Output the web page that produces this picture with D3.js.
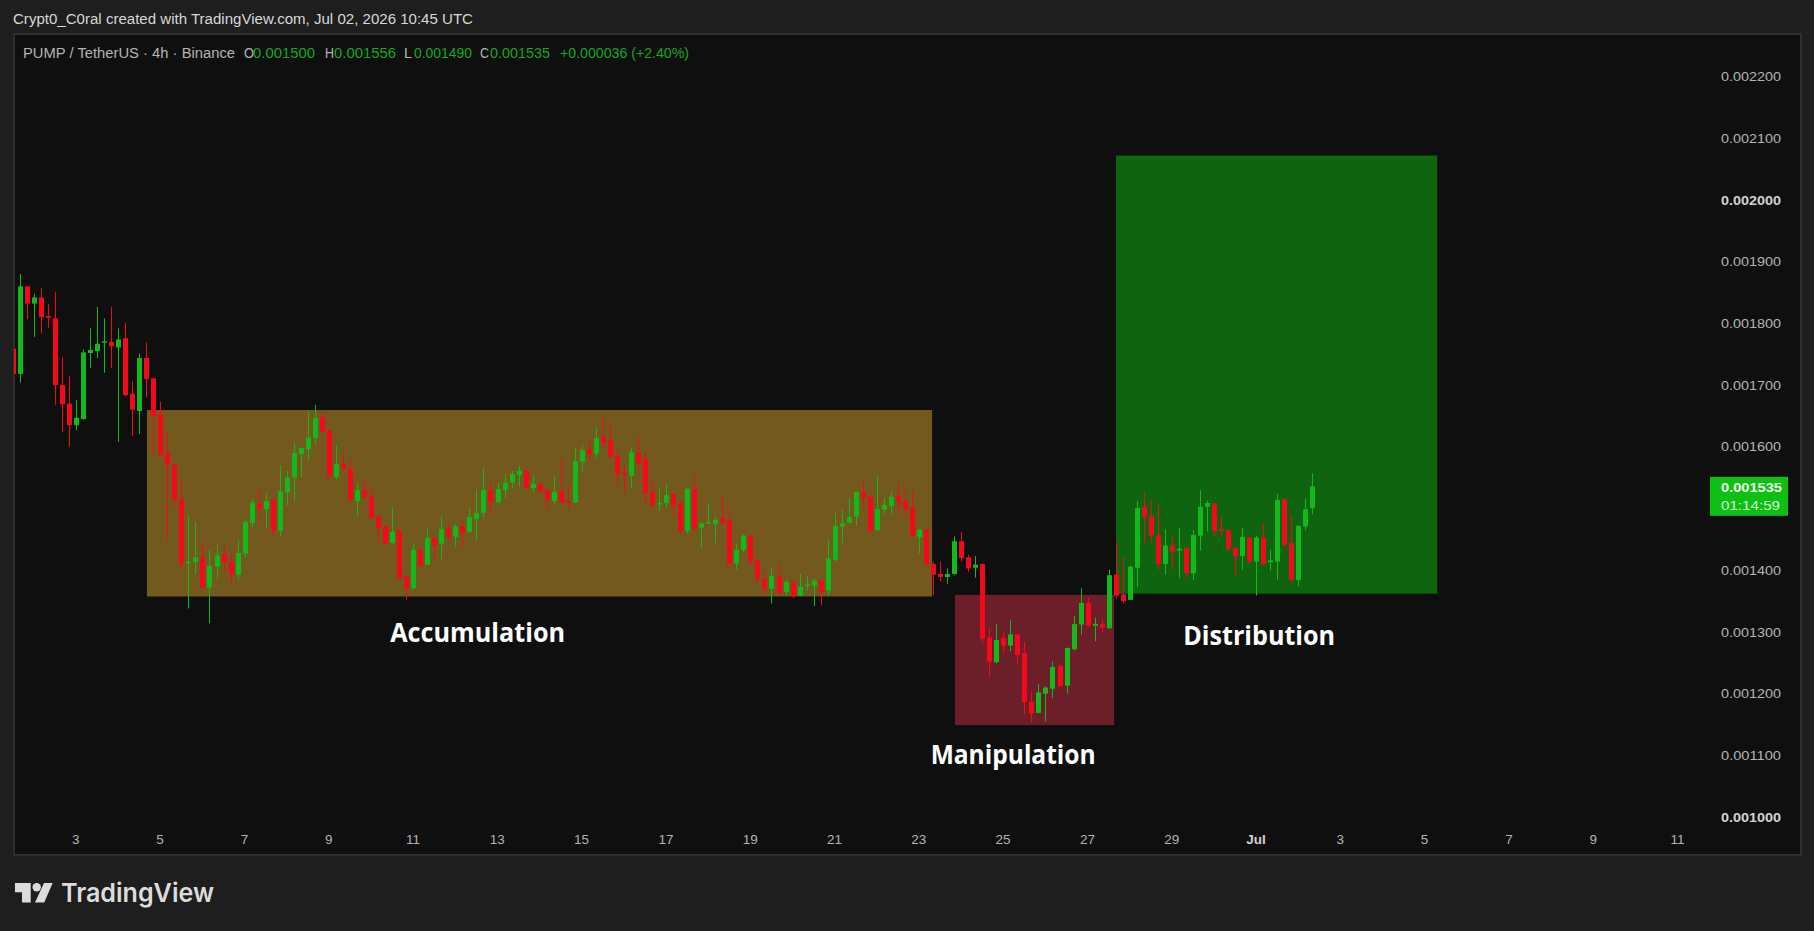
<!DOCTYPE html>
<html>
<head>
<meta charset="utf-8">
<title>PUMP / TetherUS 4h</title>
<script src="https://cdnjs.cloudflare.com/ajax/libs/d3/7.8.5/d3.min.js"></script>
<style>
  html, body { margin: 0; padding: 0; background: #1e1e1e; overflow: hidden; }
  svg { display: block; }
</style>
</head>
<body>
<script>
// Prices are kept in millionths of a USDT, candle by candle (4h bars).
const PRICE_UNIT = 1e-6;
const firstCandle = Date.UTC(2026, 5, 1, 12);
const candleMs = 4 * 3600 * 1000;

const opens = [
  1758,1717,1859,1831,1841,1811,1807,1699,1669,1634,
  1644,1751,1754,1768,1769,1760,1775,1685,1657,1743,
  1710,1652,1588,1570,1515,1410,1412,1420,1371,1405,
  1425,1413,1392,1426,1476,1507,1498,1514,1463,1525,
  1549,1587,1595,1613,1647,1625,1550,1571,1563,1511,
  1529,1518,1486,1470,1443,1463,1390,1370,1432,1408,
  1451,1442,1466,1453,1470,1461,1482,1492,1529,1509,
  1529,1541,1553,1560,1532,1539,1529,1511,1527,1511,
  1509,1575,1595,1588,1615,1609,1584,1557,1552,1589,
  1578,1527,1506,1508,1523,1508,1463,1531,1468,1476,
  1474,1483,1479,1410,1432,1455,1415,1385,1369,1389,
  1364,1379,1358,1374,1374,1382,1366,1416,1470,1476,
  1486,1525,1518,1464,1497,1503,1519,1510,1501,1453,
  1465,1409,1393,1388,1393,1446,1420,1403,1409,1290,
  1250,1289,1277,1295,1265,1186,1168,1199,1207,1244,
  1212,1271,1311,1346,1309,1312,1305,1392,1360,1351,
  1403,1502,1487,1456,1409,1439,1431,1435,1394,1455,
  1502,1507,1466,1464,1435,1422,1452,1413,1452,1412,
  1413,1514,1443,1383,1470,1500
];
const highs = [
  1772,1879,1859,1847,1856,1830,1850,1744,1714,1675,
  1757,1791,1826,1807,1826,1791,1800,1706,1750,1768,
  1710,1672,1623,1571,1545,1487,1477,1445,1432,1440,
  1438,1427,1448,1481,1514,1532,1524,1516,1569,1560,
  1604,1599,1656,1667,1656,1626,1602,1588,1579,1542,
  1546,1532,1488,1471,1500,1464,1391,1443,1434,1467,
  1454,1487,1472,1474,1481,1499,1530,1564,1540,1540,
  1555,1560,1568,1564,1555,1540,1530,1552,1578,1537,
  1597,1602,1611,1629,1648,1636,1597,1570,1597,1615,
  1591,1543,1532,1539,1524,1509,1532,1556,1476,1508,
  1486,1518,1498,1443,1458,1456,1421,1397,1402,1409,
  1384,1384,1393,1389,1386,1384,1448,1492,1497,1517,
  1527,1543,1519,1551,1516,1525,1540,1528,1528,1466,
  1466,1413,1413,1402,1454,1461,1424,1422,1410,1305,
  1312,1298,1318,1297,1283,1203,1214,1211,1251,1246,
  1274,1325,1370,1354,1322,1320,1400,1444,1420,1406,
  1511,1525,1513,1505,1465,1454,1467,1436,1464,1529,
  1512,1508,1487,1465,1436,1467,1453,1455,1476,1432,
  1523,1516,1489,1472,1515,1556
];
const lows = [
  1701,1703,1806,1777,1783,1791,1667,1623,1599,1626,
  1643,1727,1743,1719,1727,1607,1681,1617,1620,1679,
  1588,1583,1449,1500,1402,1337,1393,1370,1313,1385,
  1397,1379,1384,1420,1468,1483,1468,1455,1453,1504,
  1512,1550,1577,1604,1622,1546,1547,1559,1510,1486,
  1516,1483,1444,1441,1441,1385,1351,1367,1404,1407,
  1416,1417,1448,1436,1436,1460,1448,1484,1489,1507,
  1516,1532,1535,1530,1526,1524,1499,1507,1508,1498,
  1508,1559,1579,1580,1597,1580,1535,1524,1532,1563,
  1505,1502,1496,1500,1486,1459,1458,1464,1435,1474,
  1442,1474,1405,1400,1429,1405,1378,1359,1345,1361,
  1358,1354,1357,1366,1341,1343,1358,1412,1443,1475,
  1471,1498,1461,1463,1491,1491,1497,1486,1454,1426,
  1405,1359,1381,1377,1392,1413,1396,1387,1281,1226,
  1248,1265,1268,1247,1165,1153,1167,1154,1192,1210,
  1199,1269,1295,1307,1284,1298,1304,1354,1345,1351,
  1372,1443,1443,1399,1392,1400,1386,1386,1383,1431,
  1462,1454,1453,1431,1390,1399,1409,1358,1406,1399,
  1383,1438,1379,1373,1464,1490
];
const closes = [
  1717,1859,1831,1841,1809,1808,1699,1668,1634,1646,
  1752,1756,1766,1770,1762,1773,1683,1659,1743,1709,
  1649,1585,1570,1514,1411,1413,1420,1371,1406,1423,
  1412,1392,1427,1477,1509,1499,1511,1463,1527,1549,
  1589,1597,1614,1646,1623,1552,1571,1563,1512,1529,
  1517,1484,1467,1442,1461,1386,1370,1432,1406,1451,
  1439,1466,1453,1470,1459,1485,1492,1529,1510,1531,
  1541,1555,1560,1532,1539,1527,1513,1526,1509,1509,
  1576,1594,1587,1613,1606,1582,1555,1553,1590,1573,
  1524,1505,1508,1521,1504,1462,1531,1467,1475,1477,
  1481,1475,1410,1432,1455,1413,1386,1369,1390,1362,
  1380,1357,1372,1376,1382,1363,1418,1471,1475,1485,
  1526,1516,1462,1498,1505,1518,1509,1498,1455,1465,
  1409,1392,1388,1393,1446,1419,1402,1408,1288,1251,
  1286,1277,1295,1262,1185,1167,1201,1209,1242,1211,
  1273,1312,1346,1309,1312,1306,1391,1358,1349,1405,
  1500,1485,1455,1409,1439,1429,1434,1394,1456,1502,
  1508,1463,1463,1433,1421,1453,1413,1452,1409,1415,
  1513,1440,1383,1471,1498,1535
];

// Highlighted phases: name, time span, price span, label anchor.
const zoneNames  = ["Accumulation", "Manipulation", "Distribution"];
const zoneStarts = ["2026-06-04T16:07Z", "2026-06-23T20:12Z", "2026-06-27T15:54Z"];
const zoneEnds   = ["2026-06-23T07:12Z", "2026-06-27T14:48Z", "2026-07-05T06:48Z"];
const zoneTops   = [1658.6, 1359, 2071];
const zoneBottoms = [1356.5, 1148, 1361];
const zoneColors = ["#73591d", "#6c1f29", "#0e640f"];
const zoneLabelTimes  = ["2026-06-12T12:24Z", "2026-06-25T05:20Z", "2026-07-01T01:24Z"];
const zoneLabelPrices = [1294, 1096, 1289];
const zoneLabelWidths = [175, 165, 152];

const priceTicks = [2200, 2100, 2000, 1900, 1800, 1700, 1600, 1400, 1300, 1200, 1100, 1000];
const boldPriceTicks = [2000, 1000];
const dayTicks = [
  "2026-06-03","2026-06-05","2026-06-07","2026-06-09","2026-06-11","2026-06-13",
  "2026-06-15","2026-06-17","2026-06-19","2026-06-21","2026-06-23","2026-06-25",
  "2026-06-27","2026-06-29","2026-07-01","2026-07-03","2026-07-05","2026-07-07",
  "2026-07-09","2026-07-11"
];

// Change of the latest bar as quoted by the exchange, against the prior close.
const lastChangeText = "+0.000036 (+2.40%)";

const width = 1814, height = 931;
const plot = { left: 14, top: 34, right: 1801, bottom: 855 };
const UP = "#12b81c", DOWN = "#f5071c", LABEL = "#b4b4b4";
const FONT = "'Liberation Sans', Arial, sans-serif";

const x = d3.scaleUtc()
  .domain([new Date("2026-06-03T00:00Z"), new Date("2026-07-01T00:00Z")])
  .range([76.5, 1256.7]);
const y = d3.scaleLinear()
  .domain([1600 * PRICE_UNIT, 1000 * PRICE_UNIT])
  .range([446.2, 816.5]);

const svg = d3.select("body").append("svg")
  .attr("width", width).attr("height", height)
  .style("font-family", FONT);

svg.append("rect").attr("width", width).attr("height", height).attr("fill", "#1e1e1e");
svg.append("rect")
  .attr("x", plot.left).attr("y", plot.top)
  .attr("width", plot.right - plot.left).attr("height", plot.bottom - plot.top)
  .attr("fill", "#0f0f0f").attr("stroke", "#2e2e2e").attr("stroke-width", 2);

svg.append("defs").append("clipPath").attr("id", "pane")
  .append("rect")
  .attr("x", plot.left).attr("y", plot.top)
  .attr("width", plot.right - plot.left).attr("height", plot.bottom - plot.top);

// Phase rectangles sit behind the candles.
const zones = zoneNames.map((name, i) => ({
  name,
  start: new Date(zoneStarts[i]), end: new Date(zoneEnds[i]),
  top: zoneTops[i] * PRICE_UNIT, bottom: zoneBottoms[i] * PRICE_UNIT,
  color: zoneColors[i],
  labelTime: new Date(zoneLabelTimes[i]),
  labelPrice: zoneLabelPrices[i] * PRICE_UNIT,
  labelWidth: zoneLabelWidths[i]
}));

svg.append("g").selectAll("rect").data(zones).join("rect")
  .attr("x", d => x(d.start))
  .attr("width", d => x(d.end) - x(d.start))
  .attr("y", d => y(d.top))
  .attr("height", d => y(d.bottom) - y(d.top))
  .attr("fill", d => d.color);

const candles = opens.map((open, i) => ({
  time: new Date(firstCandle + i * candleMs),
  open: open * PRICE_UNIT,
  high: highs[i] * PRICE_UNIT,
  low: lows[i] * PRICE_UNIT,
  close: closes[i] * PRICE_UNIT
}));

const candleG = svg.append("g").attr("clip-path", "url(#pane)")
  .selectAll("g").data(candles).join("g")
  .attr("fill", d => d.close >= d.open ? UP : DOWN);

candleG.append("rect")
  .attr("x", d => Math.round(x(d.time) - 0.5))
  .attr("width", 1)
  .attr("y", d => y(d.high))
  .attr("height", d => y(d.low) - y(d.high));

candleG.append("rect")
  .attr("x", d => Math.round(x(d.time) - 0.5) - 2)
  .attr("width", 5)
  .attr("y", d => y(Math.max(d.open, d.close)))
  .attr("height", d => Math.max(1.5, Math.abs(y(d.open) - y(d.close))));

// Phase captions.
svg.append("g").selectAll("text").data(zones).join("text")
  .attr("x", d => x(d.labelTime))
  .attr("y", d => y(d.labelPrice))
  .attr("text-anchor", "middle")
  .attr("dominant-baseline", "middle")
  .attr("textLength", d => d.labelWidth)
  .attr("lengthAdjust", "spacingAndGlyphs")
  .attr("fill", "#ffffff")
  .style("font-family", "'Open Sans', sans-serif")
  .style("font-weight", 700)
  .style("font-size", "27px")
  .text(d => d.name);

// Price axis.
const isBoldPrice = d => boldPriceTicks.some(b => Math.abs(b * PRICE_UNIT - d) < 1e-9);
const priceAxis = d3.axisRight(y)
  .tickValues(priceTicks.map(v => v * PRICE_UNIT))
  .tickSize(0)
  .tickFormat(d3.format(".6f"));
const priceG = svg.append("g").attr("transform", "translate(1781,0)").call(priceAxis);
priceG.select(".domain").remove();
priceG.selectAll("text")
  .attr("x", 0).attr("dy", "0.35em")
  .attr("text-anchor", "end")
  .attr("textLength", 60).attr("lengthAdjust", "spacingAndGlyphs")
  .attr("fill", d => isBoldPrice(d) ? "#d4d4d4" : LABEL)
  .style("font-family", FONT)
  .style("font-size", "13.5px")
  .style("font-weight", d => isBoldPrice(d) ? 700 : 400);

// Time axis.
const timeAxis = d3.axisBottom(x)
  .tickValues(dayTicks.map(d => new Date(d + "T00:00Z")))
  .tickSize(0)
  .tickFormat(d => d.getUTCDate() === 1 ? "Jul" : String(d.getUTCDate()));
const timeG = svg.append("g").attr("transform", "translate(-1.2,834)").call(timeAxis);
timeG.select(".domain").remove();
timeG.selectAll("text")
  .attr("y", 0).attr("dy", "0.71em")
  .attr("fill", d => d.getUTCDate() === 1 ? "#d4d4d4" : LABEL)
  .style("font-family", FONT)
  .style("font-size", "13.5px")
  .style("font-weight", d => d.getUTCDate() === 1 ? 700 : 400);

// Last price tag with the bar countdown.
const last = candles[candles.length - 1];
const fmt = d3.format(".6f");
const tagY = y(last.close);
svg.append("rect").attr("x", 1710).attr("y", tagY - 9.5).attr("width", 78).attr("height", 39).attr("fill", "#0fbf14");
svg.append("text").attr("x", 1782).attr("y", tagY + 0.5).attr("dy", "0.35em").attr("text-anchor", "end")
  .attr("textLength", 61).attr("lengthAdjust", "spacingAndGlyphs")
  .attr("fill", "#ecfcec").style("font-size", "13.5px").style("font-weight", 700).text(fmt(last.close));
svg.append("text").attr("x", 1780).attr("y", tagY + 19).attr("dy", "0.35em").attr("text-anchor", "end")
  .attr("textLength", 59).attr("lengthAdjust", "spacingAndGlyphs")
  .attr("fill", "#d2f5d2").style("font-size", "13.5px").text("01:14:59");

// Header line.
svg.append("text").attr("x", 13).attr("y", 24)
  .attr("textLength", 460).attr("lengthAdjust", "spacingAndGlyphs")
  .attr("fill", "#d8d8d8").style("font-size", "14px")
  .text("Crypt0_C0ral created with TradingView.com, Jul 02, 2026 10:45 UTC");

// Symbol legend with the latest bar's values.
const legendValue = "#13a81e", legendText = "#b4b4b4";
const legendParts = [
  { text: "PUMP / TetherUS · 4h · Binance", x: 23, w: 212, fill: legendText },
  { text: "O", x: 244, w: 10, fill: legendText }, { text: fmt(last.open), x: 253, w: 62, fill: legendValue },
  { text: "H", x: 325, w: 9, fill: legendText },  { text: fmt(last.high), x: 334, w: 62, fill: legendValue },
  { text: "L", x: 404, w: 8, fill: legendText },  { text: fmt(last.low), x: 414, w: 58, fill: legendValue },
  { text: "C", x: 480, w: 9, fill: legendText },  { text: fmt(last.close), x: 490, w: 60, fill: legendValue },
  { text: lastChangeText, x: 560, w: 129, fill: legendValue }
];
svg.append("g").selectAll("text").data(legendParts).join("text")
  .attr("x", d => d.x).attr("y", 58)
  .attr("textLength", d => d.w).attr("lengthAdjust", "spacingAndGlyphs")
  .attr("fill", d => d.fill).style("font-size", "14px")
  .text(d => d.text);

// Footer logo.
const logo = svg.append("g").attr("fill", "#dcdcdc");
logo.append("path").attr("d", "M15 883H30.7V902.5H22V892.2H15Z");
logo.append("circle").attr("cx", 36.7).attr("cy", 887.3).attr("r", 4.2);
logo.append("path").attr("d", "M44 883H52.7L44.2 902.5H35Z");
logo.append("text").attr("x", 61).attr("y", 902)
  .attr("textLength", 153).attr("lengthAdjust", "spacingAndGlyphs")
  .style("font-family", "Inter, sans-serif").style("font-weight", 600).style("font-size", "26px")
  .text("TradingView");
</script>
</body>
</html>
